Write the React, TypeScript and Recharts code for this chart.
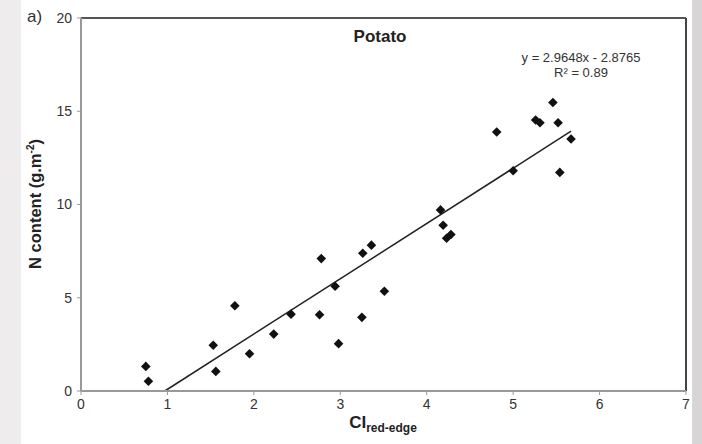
import { ScatterChart, Scatter, XAxis, YAxis, ReferenceLine } from 'recharts';

// CI red-edge vs N content, potato
const ciRedEdge = [
  0.75, 0.78, 1.53, 1.56, 1.78, 1.95, 2.23, 2.43, 2.76, 2.78, 2.94, 2.98, 3.25, 3.26,
  3.36, 3.51, 4.16, 4.19, 4.23, 4.28, 4.81, 5.0, 5.26, 5.31, 5.46, 5.52, 5.54, 5.67,
];
const nContent = [
  1.32, 0.52, 2.45, 1.05, 4.57, 2.0, 3.05, 4.12, 4.09, 7.1, 5.62, 2.54, 3.95, 7.39,
  7.82, 5.35, 9.71, 8.89, 8.19, 8.39, 13.89, 11.81, 14.53, 14.38, 15.47, 14.38, 11.72, 13.51,
];
// trendline ends, y = 2.9648x - 2.8765
const fitStart = { x: 0.97, y: 0 };
const fitEnd = { x: 5.67, y: 13.93 };
const xTicks = [0, 1, 2, 3, 4, 5, 6, 7];
const yTicks = [0, 5, 10, 15, 20];

const points = ciRedEdge.map((x, i) => ({ x, y: nContent[i] }));

const Diamond = (props: any) => {
  const { cx, cy } = props;
  const r = 4.8;
  return (
    <polygon
      points={`${cx},${cy - r} ${cx + r},${cy} ${cx},${cy + r} ${cx - r},${cy}`}
      fill="#111"
    />
  );
};

const tickStyle = { fill: '#333', fontSize: 14, fontFamily: 'Liberation Sans, Arial' };

export default function App() {
  return (
    <div
      style={{
        position: 'absolute',
        left: 0,
        top: 0,
        width: 702,
        height: 444,
        background:
          'linear-gradient(to right, #eeecec 0px, #eeecec 21px, #fff 21px, #fff 692px, #d8d5d6 692px)',
        fontFamily: 'Liberation Sans, Arial, sans-serif',
      }}
    >
      <ScatterChart
        width={702}
        height={444}
        margin={{ top: 18, right: 16, bottom: 0, left: 0 }}
      >
        <XAxis
          type="number"
          dataKey="x"
          domain={[0, 7]}
          ticks={xTicks}
          height={53}
          tickSize={4}
          tickMargin={4}
          stroke="#999"
          strokeWidth={2}
          tick={tickStyle}
          tickLine={{ stroke: '#999', strokeWidth: 1 }}
        />
        <YAxis
          type="number"
          dataKey="y"
          domain={[0, 20]}
          ticks={yTicks}
          width={81}
          tickSize={4}
          tickMargin={5}
          stroke="#999"
          strokeWidth={2}
          tick={tickStyle}
          tickLine={{ stroke: '#999', strokeWidth: 1 }}
        />
        <ReferenceLine y={20} stroke="#555" strokeWidth={2} />
        <ReferenceLine x={7} stroke="#444" strokeWidth={2} />
        <ReferenceLine
          segment={[fitStart, fitEnd]}
          stroke="#222"
          strokeWidth={1.5}
        />
        <Scatter data={points} shape={<Diamond />} isAnimationActive={false} />
      </ScatterChart>

      <div style={{ position: 'absolute', left: 27, top: 7, fontSize: 17, color: '#333' }}>a)</div>
      <div
        style={{
          position: 'absolute',
          left: 380,
          top: 27,
          transform: 'translateX(-50%)',
          fontSize: 17,
          fontWeight: 'bold',
          color: '#222',
        }}
      >
        Potato
      </div>
      <div
        style={{
          position: 'absolute',
          left: 581,
          top: 50,
          transform: 'translateX(-50%)',
          fontSize: 13,
          lineHeight: '15px',
          color: '#333',
          textAlign: 'center',
          whiteSpace: 'nowrap',
        }}
      >
        y = 2.9648x - 2.8765
        <br />
        R² = 0.89
      </div>
      <div
        style={{
          position: 'absolute',
          left: 35,
          top: 204,
          transform: 'translate(-50%, -50%) rotate(-90deg)',
          fontSize: 16.5,
          fontWeight: 'bold',
          color: '#222',
          whiteSpace: 'nowrap',
        }}
      >
        N content (g.m<sup style={{ fontSize: 10 }}>-2</sup>)
      </div>
      <div
        style={{
          position: 'absolute',
          left: 383,
          top: 413,
          transform: 'translateX(-50%)',
          fontSize: 17,
          fontWeight: 'bold',
          color: '#222',
          whiteSpace: 'nowrap',
        }}
      >
        CI<sub style={{ fontSize: 12 }}>red-edge</sub>
      </div>
    </div>
  );
}
